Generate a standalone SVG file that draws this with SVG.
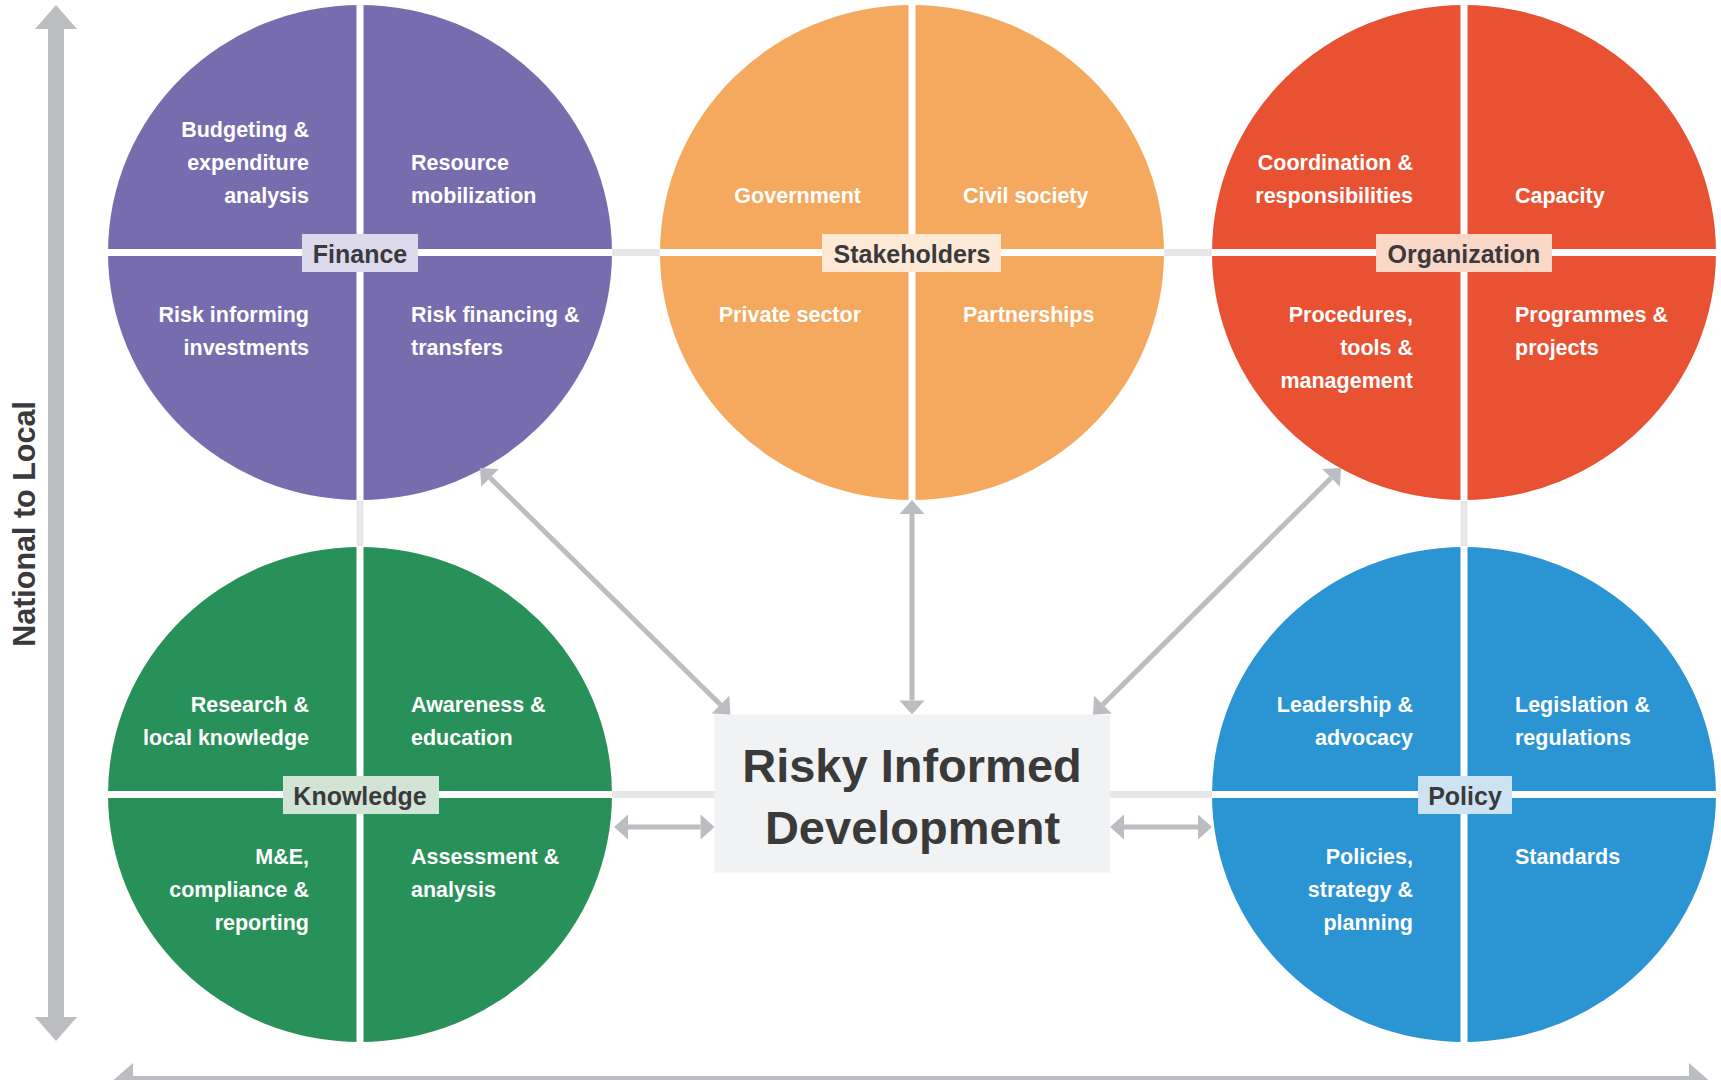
<svg xmlns="http://www.w3.org/2000/svg" width="1721" height="1080" viewBox="0 0 1721 1080">
  <style>
    .q { font-family: "Liberation Sans", Arial, sans-serif; font-weight: 700; font-size: 21.5px; fill: #ffffff; }
    .qe { text-anchor: end; }
    .lbl { font-family: "Liberation Sans", Arial, sans-serif; font-weight: 700; font-size: 25px; fill: #3a3a3c; text-anchor: middle; }
    .title { font-family: "Liberation Sans", Arial, sans-serif; font-weight: 700; font-size: 47px; fill: #3a3a3a; text-anchor: middle; }
    .axis-label { font-family: "Liberation Sans", Arial, sans-serif; font-weight: 700; font-size: 30.5px; fill: #3a3a3c; text-anchor: middle; }
    .divider { stroke: #ffffff; stroke-width: 7; }
    .link { stroke: #e6e7e8; stroke-width: 7; fill: none; }
    .arrow { stroke: #bcbdc0; stroke-width: 5; fill: none; marker-start: url(#head); marker-end: url(#head); }
    .axis { stroke: #bcbdc0; stroke-width: 16; fill: none; marker-start: url(#axisHead); marker-end: url(#axisHead); }
  </style>
  <defs>
    <marker id="head" markerUnits="userSpaceOnUse" markerWidth="16" markerHeight="26" refX="0" refY="12.5" orient="auto-start-reverse" overflow="visible">
      <path d="M0,0 L14,12.5 L0,25 Z" fill="#bcbdc0"/>
    </marker>
    <marker id="axisHead" markerUnits="userSpaceOnUse" markerWidth="24" markerHeight="42" refX="0" refY="21" orient="auto-start-reverse" overflow="visible">
      <path d="M0,0 L24,21 L0,42 Z" fill="#bcbdc0"/>
    </marker>
  </defs>

  <rect width="1721" height="1080" fill="#ffffff"/>

  <!-- scale axes -->
  <g id="axes">
    <line class="axis" x1="56" y1="29" x2="56" y2="1017"/>
    <line class="axis" x1="133" y1="1084" x2="1689" y2="1084"/>
    <text class="axis-label" transform="translate(35,524) rotate(-90)">National to Local</text>
  </g>

  <!-- light links joining the circles and the central box -->
  <g id="links">
    <line class="link" x1="610" y1="252.5" x2="662" y2="252.5"/>
    <line class="link" x1="1162" y1="252.5" x2="1214" y2="252.5"/>
    <line class="link" x1="360" y1="498" x2="360" y2="549"/>
    <line class="link" x1="1464" y1="498" x2="1464" y2="549"/>
    <line class="link" x1="610" y1="794.5" x2="716" y2="794.5"/>
    <line class="link" x1="1108" y1="794.5" x2="1214" y2="794.5"/>
  </g>

  <!-- Finance -->
  <g id="finance" transform="translate(360,252.5)">
    <ellipse rx="252" ry="247.5" fill="#776dae"/>
    <line class="divider" x1="0" y1="-248" x2="0" y2="248"/>
    <line class="divider" x1="-252" y1="0" x2="252" y2="0"/>
    <text class="q qe" x="-51" y="-115.5">Budgeting &amp;</text>
    <text class="q qe" x="-51" y="-82.5">expenditure</text>
    <text class="q qe" x="-51" y="-49.5">analysis</text>
    <text class="q" x="51" y="-82.5">Resource</text>
    <text class="q" x="51" y="-49.5">mobilization</text>
    <text class="q qe" x="-51" y="69">Risk informing</text>
    <text class="q qe" x="-51" y="102">investments</text>
    <text class="q" x="51" y="69">Risk financing &amp;</text>
    <text class="q" x="51" y="102">transfers</text>
    <rect x="-58" y="-18.5" width="116" height="38" fill="#dcd9ec"/>
    <text class="lbl" x="0" y="10.5">Finance</text>
  </g>

  <!-- Stakeholders -->
  <g id="stakeholders" transform="translate(912,252.5)">
    <ellipse rx="252" ry="247.5" fill="#f5a95e"/>
    <line class="divider" x1="0" y1="-248" x2="0" y2="248"/>
    <line class="divider" x1="-252" y1="0" x2="252" y2="0"/>
    <text class="q qe" x="-51" y="-49.5">Government</text>
    <text class="q" x="51" y="-49.5">Civil society</text>
    <text class="q qe" x="-51" y="69">Private sector</text>
    <text class="q" x="51" y="69">Partnerships</text>
    <rect x="-90" y="-18.5" width="179" height="38" fill="#fde9d6"/>
    <text class="lbl" x="0" y="10.5">Stakeholders</text>
  </g>

  <!-- Organization -->
  <g id="organization" transform="translate(1464,252.5)">
    <ellipse rx="252" ry="247.5" fill="#e85233"/>
    <line class="divider" x1="0" y1="-248" x2="0" y2="248"/>
    <line class="divider" x1="-252" y1="0" x2="252" y2="0"/>
    <text class="q qe" x="-51" y="-82.5">Coordination &amp;</text>
    <text class="q qe" x="-51" y="-49.5">responsibilities</text>
    <text class="q" x="51" y="-49.5">Capacity</text>
    <text class="q qe" x="-51" y="69">Procedures,</text>
    <text class="q qe" x="-51" y="102">tools &amp;</text>
    <text class="q qe" x="-51" y="135">management</text>
    <text class="q" x="51" y="69">Programmes &amp;</text>
    <text class="q" x="51" y="102">projects</text>
    <rect x="-88" y="-18.5" width="176" height="38" fill="#fad8c7"/>
    <text class="lbl" x="0" y="10.5">Organization</text>
  </g>

  <!-- Knowledge -->
  <g id="knowledge" transform="translate(360,794.5)">
    <ellipse rx="252" ry="247.5" fill="#289159"/>
    <line class="divider" x1="0" y1="-248" x2="0" y2="248"/>
    <line class="divider" x1="-252" y1="0" x2="252" y2="0"/>
    <text class="q qe" x="-51" y="-82.5">Research &amp;</text>
    <text class="q qe" x="-51" y="-49.5">local knowledge</text>
    <text class="q" x="51" y="-82.5">Awareness &amp;</text>
    <text class="q" x="51" y="-49.5">education</text>
    <text class="q qe" x="-51" y="69">M&amp;E,</text>
    <text class="q qe" x="-51" y="102">compliance &amp;</text>
    <text class="q qe" x="-51" y="135">reporting</text>
    <text class="q" x="51" y="69">Assessment &amp;</text>
    <text class="q" x="51" y="102">analysis</text>
    <rect x="-77" y="-18.5" width="156" height="38" fill="#d2e4d6"/>
    <text class="lbl" x="0" y="10.5">Knowledge</text>
  </g>

  <!-- Policy -->
  <g id="policy" transform="translate(1464,794.5)">
    <ellipse rx="252" ry="247.5" fill="#2b94d3"/>
    <line class="divider" x1="0" y1="-248" x2="0" y2="248"/>
    <line class="divider" x1="-252" y1="0" x2="252" y2="0"/>
    <text class="q qe" x="-51" y="-82.5">Leadership &amp;</text>
    <text class="q qe" x="-51" y="-49.5">advocacy</text>
    <text class="q" x="51" y="-82.5">Legislation &amp;</text>
    <text class="q" x="51" y="-49.5">regulations</text>
    <text class="q qe" x="-51" y="69">Policies,</text>
    <text class="q qe" x="-51" y="102">strategy &amp;</text>
    <text class="q qe" x="-51" y="135">planning</text>
    <text class="q" x="51" y="69">Standards</text>
    <rect x="-46" y="-18.5" width="94" height="38" fill="#cde3f3"/>
    <text class="lbl" x="1" y="10.5">Policy</text>
  </g>

  <!-- central node -->
  <g id="risk-informed-development">
    <rect x="714.5" y="714.5" width="395.5" height="158" fill="#f1f2f4"/>
    <text class="title" x="912" y="781.5">Risky Informed</text>
    <text class="title" x="912.5" y="843.5">Development</text>
  </g>

  <!-- two-way arrows between the central node and the pillars -->
  <g id="connectors">
    <line class="arrow" x1="912" y1="514" x2="912" y2="700.5"/>
    <line class="arrow" x1="490" y1="477.8" x2="720.5" y2="704.7"/>
    <line class="arrow" x1="1331.1" y1="477.9" x2="1102.9" y2="704.6"/>
    <line class="arrow" x1="628" y1="827" x2="700.5" y2="827"/>
    <line class="arrow" x1="1124" y1="827" x2="1198" y2="827"/>
  </g>
</svg>
